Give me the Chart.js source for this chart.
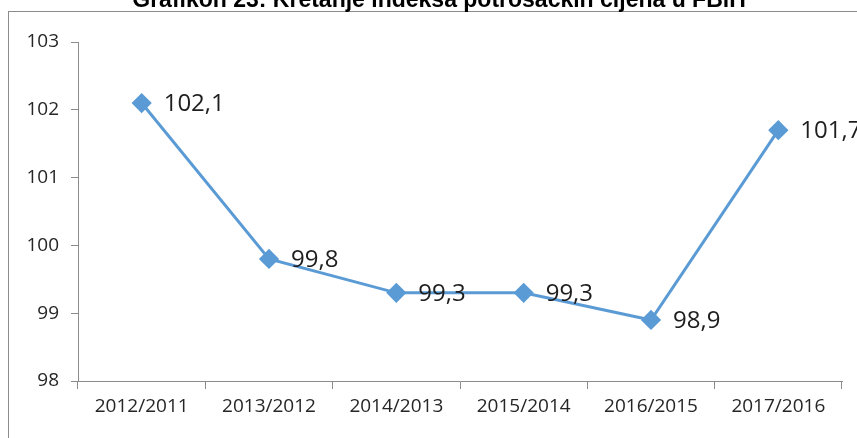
<!DOCTYPE html>
<html>
<head>
<meta charset="utf-8">
<script src="https://cdn.jsdelivr.net/npm/chart.js@4.4.0/dist/chart.umd.min.js"></script>
<style>
    html, body { margin: 0; padding: 0; background: #fff; overflow: hidden; }
    #okvir { position: absolute; left: 8px; top: 11px; width: 900px; height: 500px;
             border-left: 1px solid #8c8c8c; border-top: 1px solid #8c8c8c; }
    #wrap { position: absolute; left: 0; top: 0; width: 857px; height: 438px; }
</style>
</head>
<body>
<div id="okvir"></div>
<div id="wrap"><canvas id="grafikon"></canvas></div>
<script>
// podaci sa grafikona
var naslov = "Grafikon 23: Kretanje indeksa potrošačkih cijena u FBiH";
var periodi = ["2012/2011", "2013/2012", "2014/2013", "2015/2014", "2016/2015", "2017/2016"];
var indeksi = [102.1, 99.8, 99.3, 99.3, 98.9, 101.7];
var yTicks = [98, 99, 100, 101, 102, 103];

var siva = "#8c8c8c";
var plava = "#5b9bd5";

// naslov (gornji dio je odsjecen kao na slici)
var naslovPlugin = {
    id: "naslovPlugin",
    afterDraw: function (chart) {
        var ctx = chart.ctx;
        ctx.save();
        ctx.font = "bold 23px 'Liberation Sans', Arial, sans-serif";
        ctx.fillStyle = "#000";
        ctx.textAlign = "center";
        ctx.textBaseline = "alphabetic";
        ctx.fillText(naslov, 439, 7);
        ctx.restore();
    }
};

// vrijednosti desno od tacke
var oznakePlugin = {
    id: "oznakePlugin",
    afterDatasetsDraw: function (chart) {
        var ctx = chart.ctx;
        var meta = chart.getDatasetMeta(0);
        ctx.save();
        ctx.font = "24px 'Open Sans', sans-serif";
        ctx.fillStyle = "#1e1e1e";
        ctx.textAlign = "left";
        ctx.textBaseline = "middle";
        meta.data.forEach(function (pt, i) {
            var txt = indeksi[i].toFixed(1).replace(".", ",");
            ctx.fillText(txt, pt.x + 22, pt.y + 1);
        });
        ctx.restore();
    }
};

var ctx = document.getElementById("grafikon").getContext("2d");
var chart = new Chart(ctx, {
    type: "line",
    data: {
        labels: periodi,
        datasets: [
            {
                data: indeksi,
                borderColor: plava,
                backgroundColor: plava,
                borderWidth: 3,
                pointStyle: "rectRot",
                pointRadius: 8,
                pointHoverRadius: 8,
                fill: false,
                tension: 0
            }
        ]
    },
    options: {
        responsive: true,
        maintainAspectRatio: false,
        animation: false,
        layout: { padding: { top: 42, right: 15, bottom: 0, left: 0 } },
        plugins: {
            legend: { display: false },
            title: { display: false },
            tooltip: { enabled: false }
        },
        scales: {
            x: {
                offset: true,
                grid: { offset: true, drawOnChartArea: false, drawTicks: true, tickLength: 8, color: siva },
                border: { display: true, color: siva, width: 1 },
                ticks: { color: "#262626", font: { family: "'Open Sans', sans-serif", size: 19 }, padding: 6, maxRotation: 0 },
                afterFit: function (s) { s.height = 57; }
            },
            y: {
                min: 98,
                max: 103,
                afterBuildTicks: function (s) { s.ticks = yTicks.map(function (v) { return { value: v }; }); },
                grid: { drawOnChartArea: false, drawTicks: true, tickLength: 7, color: siva },
                border: { display: true, color: siva, width: 1 },
                ticks: { color: "#262626", font: { family: "'Open Sans', sans-serif", size: 19 }, padding: 12 },
                afterFit: function (s) { s.width = 78; }
            }
        }
    },
    plugins: [naslovPlugin, oznakePlugin]
});
</script>
</body>
</html>
